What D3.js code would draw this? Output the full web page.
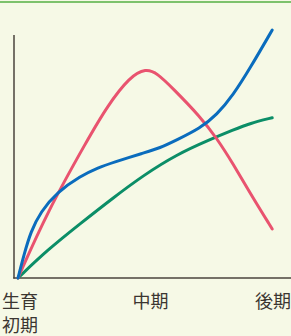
<!DOCTYPE html>
<html><head><meta charset="utf-8">
<script src="https://cdn.jsdelivr.net/npm/d3@7"></script>
<style>
html,body{margin:0;padding:0;background:#f6f9e6;}
svg{display:block;}
</style></head>
<body>
<script>
// stage labels (x ticks)
const stageLabels = [["生育","初期"],["中期"],["後期"]];
const stagePos = [0, 52, 100];

// series (x: growth stage 0-100, y: relative amount 0-100)
const blueX = [0, 2.4, 5.0, 8.9, 15.4, 24.6, 31.1, 37.6, 49.1, 55.7, 62.2, 71.4, 77.9, 84.4, 91, 99.7];
const blueY = [0, 9.5, 18.5, 26.5, 34.4, 40.8, 44.0, 46.3, 50.0, 52.0, 55.2, 59.9, 65.2, 73.2, 83.9, 99.2];
const redX  = [0, 11.5, 27.2, 34.9, 43.9, 50.2, 54.5, 60.8, 71.4, 77.9, 84.4, 91, 99.7];
const redY  = [0, 26.5, 55.2, 68.6, 80.6, 83.8, 82.0, 75.8, 64.6, 56.0, 45.6, 34.0, 19.6];
const greenX = [0, 11.5, 24.6, 37.6, 49.1, 62.2, 75.3, 84.4, 91, 99.7];
const greenY = [0, 11.2, 21.9, 32.3, 41.0, 49.4, 55.4, 59.2, 61.9, 64.1];

const W = 291, H = 336;
const svg = d3.select("body").append("svg").attr("width", W).attr("height", H);
svg.append("rect").attr("width", W).attr("height", H).attr("fill", "#f6f9e6");
svg.append("rect").attr("x", 0).attr("y", 1).attr("width", W).attr("height", 2).attr("fill", "#7dc26c");

const x = d3.scaleLinear().domain([0, 100]).range([18, 273]);
const y = d3.scaleLinear().domain([0, 100]).range([278, 28]);

// axes
svg.append("line").attr("x1", 14).attr("x2", 14).attr("y1", 35).attr("y2", 278.5)
  .attr("stroke", "#4a433d").attr("stroke-width", 1.5);
svg.append("line").attr("x1", 13.25).attr("x2", W).attr("y1", 278).attr("y2", 278)
  .attr("stroke", "#4a433d").attr("stroke-width", 1.5);

const line = d3.line().x(d => x(d[0])).y(d => y(d[1])).curve(d3.curveBasis);
const series = [
  {xs: greenX, ys: greenY, c: "#0b8e67"},
  {xs: redX, ys: redY, c: "#e9536f"},
  {xs: blueX, ys: blueY, c: "#0a6cbd"}
];
series.forEach(s => {
  svg.append("path").datum(d3.zip(s.xs, s.ys)).attr("d", line)
    .attr("fill", "none").attr("stroke", s.c).attr("stroke-width", 3)
    .attr("stroke-linecap", "round").attr("stroke-linejoin", "round");
});

// tick labels
const anchors = ["start", "middle", "end"];
const offs = [-16, 0, 18];
stageLabels.forEach((lab, i) => {
  const t = svg.append("text")
    .attr("x", x(stagePos[i]) + offs[i]).attr("y", 308)
    .attr("text-anchor", anchors[i])
    .attr("font-family", "'Noto Sans CJK JP', sans-serif")
    .attr("font-size", 18).attr("fill", "#3b3631");
  lab.forEach((l, j) => {
    t.append("tspan").attr("x", x(stagePos[i]) + offs[i]).attr("dy", j === 0 ? 0 : 24).text(l);
  });
});
</script>
</body></html>
